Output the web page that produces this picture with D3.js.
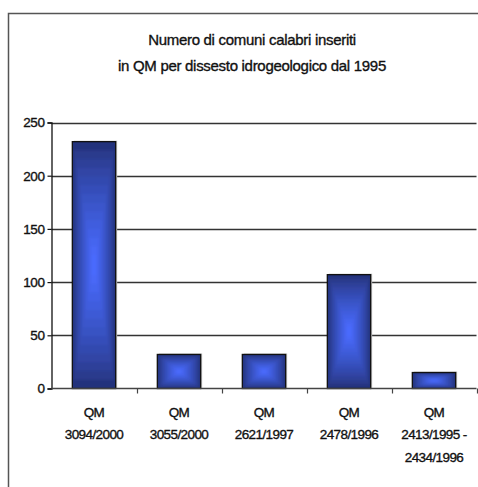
<!DOCTYPE html>
<html>
<head>
<meta charset="utf-8">
<script src="https://cdn.jsdelivr.net/npm/d3@7"></script>
<style>
  html, body { margin: 0; padding: 0; background: #fff; }
  svg { display: block; }
  text { font-family: "Liberation Sans", Arial, sans-serif; fill: #111; stroke: #111; stroke-width: 0.35px; }
</style>
</head>
<body>
<svg id="chart" width="478" height="487"></svg>
<script>
// Categories (ordinances) and number of municipalities per ordinance
const categories = [
  ["QM", "3094/2000"],
  ["QM", "3055/2000"],
  ["QM", "2621/1997"],
  ["QM", "2478/1996"],
  ["QM", "2413/1995 -", "2434/1996"]
];
const values = [232, 32, 32, 107, 15];
const yTicks = [0, 50, 100, 150, 200, 250];
const titleLines = [
  "Numero di comuni calabri inseriti",
  "in QM per dissesto idrogeologico dal 1995"
];

const svg = d3.select("#chart");
const W = 478, H = 487;
const plot = { left: 51.5, right: 476.5, top: 122.5, bottom: 388.5 };

const x = d3.scaleBand()
  .domain(d3.range(values.length))
  .range([plot.left, plot.right])
  .paddingInner(0.49)
  .paddingOuter(0.245);

const y = d3.scaleLinear()
  .domain([0, 250])
  .range([plot.bottom, plot.top]);

// Outer frame (left and top edges visible)
svg.append("path")
  .attr("d", `M8.5,${H} L8.5,13.5 L${W},13.5`)
  .attr("fill", "none")
  .attr("stroke", "#555")
  .attr("stroke-width", 1.5);

// Title
svg.append("g").selectAll("text")
  .data(titleLines)
  .join("text")
  .attr("x", 252)
  .attr("y", (d, i) => 44.5 + i * 26)
  .attr("text-anchor", "middle")
  .attr("font-size", 15)
  .attr("letter-spacing", -0.3)
  .text(d => d);

// Horizontal gridlines
svg.append("g").selectAll("line")
  .data(yTicks.filter(v => v > 0))
  .join("line")
  .attr("x1", plot.left)
  .attr("x2", plot.right)
  .attr("y1", d => Math.round(y(d)) + 0.5)
  .attr("y2", d => Math.round(y(d)) + 0.5)
  .attr("stroke", "#333")
  .attr("stroke-width", 1.3);

// Y axis
const yAxis = d3.axisLeft(y).tickValues(yTicks).tickSize(4).tickPadding(3);
const gy = svg.append("g")
  .attr("transform", `translate(${plot.left},0)`)
  .call(yAxis);
gy.select(".domain").attr("stroke", "#111").attr("stroke-width", 1.3);
gy.selectAll(".tick line").attr("stroke", "#111").attr("stroke-width", 1.2);
gy.selectAll(".tick text")
  .attr("font-size", 13.5)
  .attr("letter-spacing", -0.4)
  .attr("font-family", "Liberation Sans, Arial, sans-serif")
  .attr("fill", "#111");

// Bar gradient: rectangular centre-bright shading built from concentric rects
const edge = d3.rgb("#24337c"), centre = d3.rgb("#4a6cff");
const steps = 14;
const defs = svg.append("defs");
defs.append("filter").attr("id", "soft")
  .append("feGaussianBlur").attr("stdDeviation", 1.4);

const bars = svg.append("g");
values.forEach((v, i) => {
  const bx = x(i), bw = x.bandwidth();
  const by = y(v), bh = y(0) - y(v);
  const g = bars.append("g");
  defs.append("clipPath").attr("id", "clip" + i)
    .append("rect").attr("x", bx).attr("y", by).attr("width", bw).attr("height", bh);
  // soft shadow
  g.append("rect")
    .attr("x", bx + 1.5).attr("y", by - 1).attr("width", bw).attr("height", bh + 1)
    .attr("fill", "#c8c8c8");
  const inner = g.append("g").attr("clip-path", `url(#clip${i})`)
    .append("g").attr("filter", "url(#soft)");
  for (let s = 0; s < steps; s++) {
    const t = s / (steps - 1);
    const k = Math.pow(t, 0.8);
    const insetX = (bw / 2) * t * 0.92;
    const insetY = (bh / 2) * t * 0.92;
    inner.append("rect")
      .attr("x", bx + insetX - (s === 0 ? 3 : 0))
      .attr("y", by + insetY - (s === 0 ? 3 : 0))
      .attr("width", bw - 2 * insetX + (s === 0 ? 6 : 0))
      .attr("height", bh - 2 * insetY + (s === 0 ? 6 : 0))
      .attr("fill", d3.interpolateRgb(edge, centre)(k));
  }
  g.append("rect")
    .attr("x", bx).attr("y", by).attr("width", bw).attr("height", bh)
    .attr("fill", "none")
    .attr("stroke", "#111")
    .attr("stroke-width", 1.3);
});

// X axis
const gx = svg.append("g")
  .attr("transform", `translate(0,${plot.bottom})`);
gx.append("line")
  .attr("x1", plot.left).attr("x2", plot.right)
  .attr("stroke", "#444").attr("stroke-width", 1.5);
const boundaries = d3.range(1, values.length + 1).map(i => plot.left + i * x.step());
gx.selectAll("line.tk")
  .data(boundaries)
  .join("line")
  .attr("class", "tk")
  .attr("x1", d => Math.round(d) + 0.5).attr("x2", d => Math.round(d) + 0.5)
  .attr("y1", 0).attr("y2", 5)
  .attr("stroke", "#444").attr("stroke-width", 1.2);

const labels = gx.selectAll("text.cat")
  .data(categories)
  .join("text")
  .attr("class", "cat")
  .attr("x", (d, i) => x(i) + x.bandwidth() / 2)
  .attr("y", 28)
  .attr("text-anchor", "middle")
  .attr("font-size", 13.5)
  .attr("letter-spacing", -0.6);
labels.selectAll("tspan")
  .data(d => d)
  .join("tspan")
  .attr("x", function() { return this.parentNode.getAttribute("x"); })
  .attr("dy", (d, j) => j === 0 ? 0 : 22.5)
  .text(d => d);
</script>
</body>
</html>
